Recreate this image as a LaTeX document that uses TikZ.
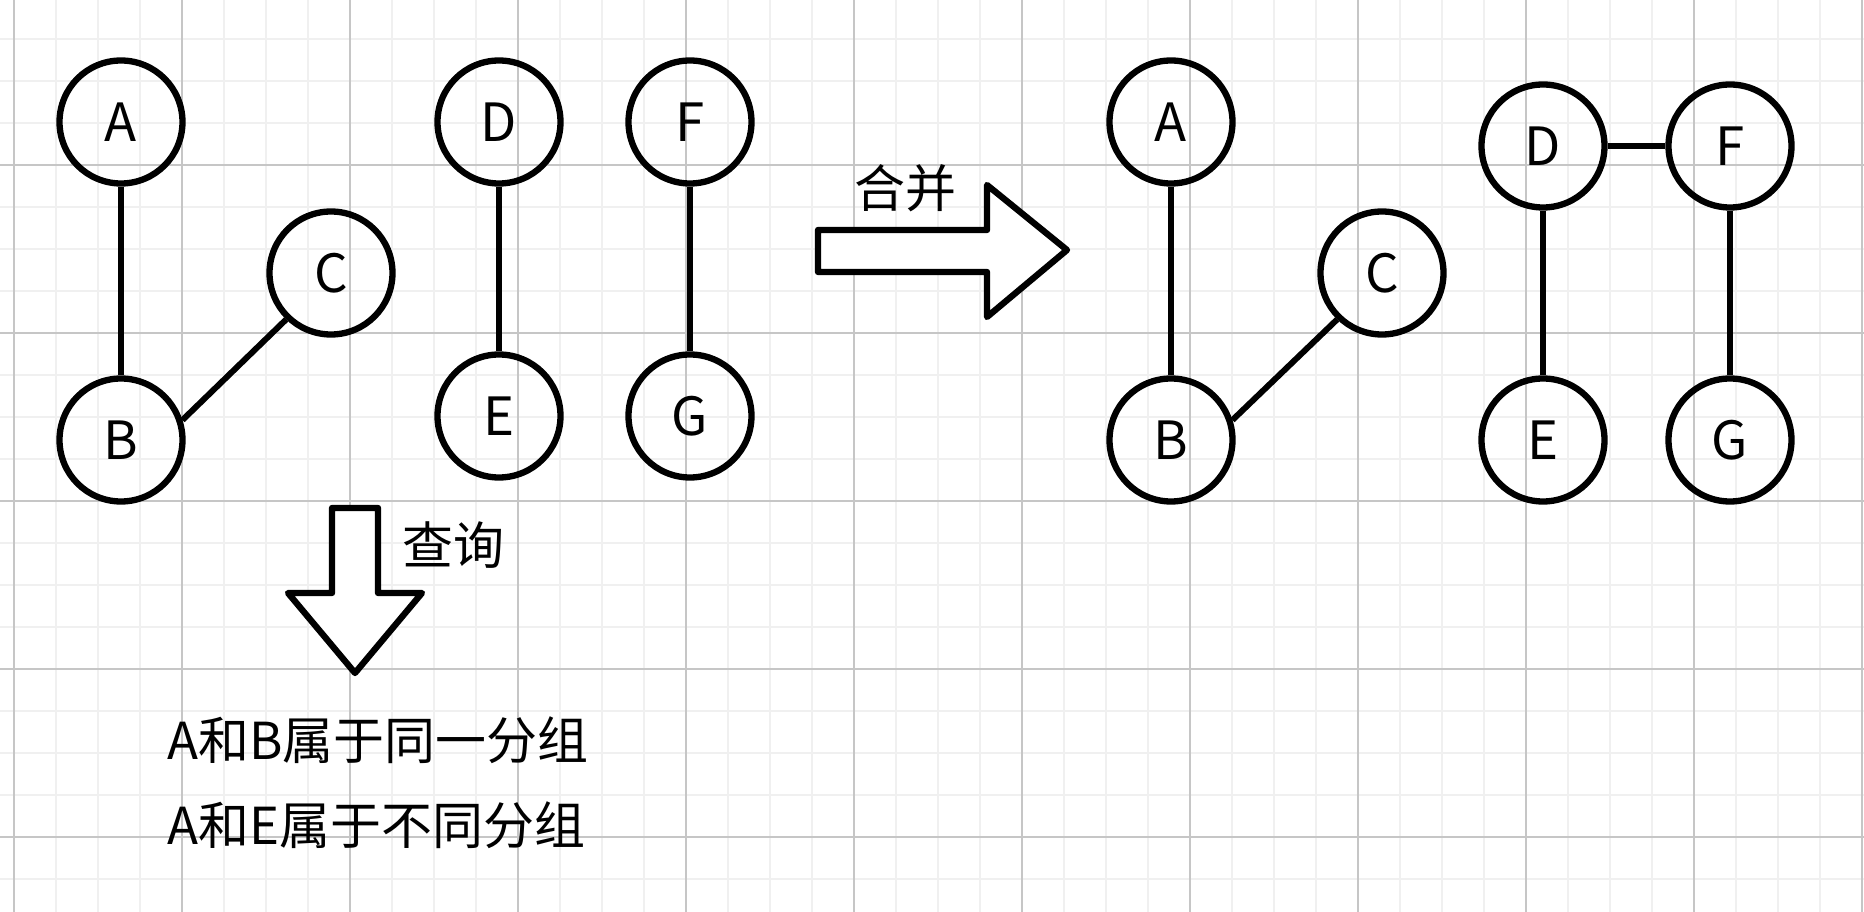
\documentclass[tikz,border=0pt]{standalone}
\usepackage{fontspec}
\setmainfont{Noto Sans CJK SC}
\usepackage{tikz}
\usetikzlibrary{positioning}

\begin{document}
\begin{tikzpicture}[
        vertex/.style={draw, circle, line width=1.8pt, minimum size=1.23cm, inner sep=0pt, font=\fontsize{15}{18}\selectfont},
        edge/.style={line width=1.7pt},
        bigarrow/.style={draw, line width=1.8pt, line join=round, fill=white},
        label/.style={font=\fontsize{14.5}{18}\selectfont},
        minorline/.style={gray!12, line width=0.5pt},
        majorline/.style={gray!45, line width=0.6pt}
    ]
        \useasboundingbox (0,0) rectangle (18.64,9.12);
        \fill[white] (0,0) rectangle (18.64,9.12);

        % grid paper
        \foreach \i in {0,...,44} {
            \draw[minorline] ({0.14+0.42*\i},0) -- ++(0,9.12);
        }
        \foreach \j in {-3,...,17} {
            \draw[minorline] (0,{7.47-0.42*\j}) -- ++(18.64,0);
        }
        \foreach \i in {0,...,11} {
            \draw[majorline] ({0.14+1.68*\i},0) -- ++(0,9.12);
        }
        \foreach \j in {0,...,4} {
            \draw[majorline] (0,{7.47-1.68*\j}) -- ++(18.64,0);
        }

        % before
        \node[vertex] (A1) at (1.21, 7.90) {A};
        \node[vertex] (C1) at (3.31, 6.39) {C};
        \node[vertex] (B1) at (1.21, 4.72) {B};
        \node[vertex] (D1) at (4.99, 7.90) {D};
        \node[vertex] (E1) at (4.99, 4.96) {E};
        \node[vertex] (F1) at (6.90, 7.90) {F};
        \node[vertex] (G1) at (6.90, 4.96) {G};

        \draw[edge] (A1) -- (B1);
        \draw[edge] (B1.18) -- (C1.226);
        \draw[edge] (D1) -- (E1);
        \draw[edge] (F1) -- (G1);

        % merge arrow
        \draw[bigarrow] (8.18,6.82) -- (9.87,6.82) -- (9.87,7.27) -- (10.67,6.62)
            -- (9.87,5.95) -- (9.87,6.40) -- (8.18,6.40) -- cycle;
        \node[label] (merge) at (9.05, 7.24) {合并};

        % after
        \node[vertex] (A2) at (11.71, 7.90) {A};
        \node[vertex] (C2) at (13.82, 6.39) {C};
        \node[vertex] (B2) at (11.71, 4.72) {B};
        \node[vertex] (D2) at (15.43, 7.66) {D};
        \node[vertex] (F2) at (17.30, 7.66) {F};
        \node[vertex] (E2) at (15.43, 4.72) {E};
        \node[vertex] (G2) at (17.30, 4.72) {G};

        \draw[edge] (A2) -- (B2);
        \draw[edge] (B2.18) -- (C2.226);
        \draw[edge] (D2) -- (F2);
        \draw[edge] (D2) -- (E2);
        \draw[edge] (F2) -- (G2);

        % query arrow
        \draw[bigarrow] (3.32,4.04) -- (3.78,4.04) -- (3.78,3.19) -- (4.22,3.19)
            -- (3.55,2.39) -- (2.88,3.19) -- (3.32,3.19) -- cycle;
        \node[label] (query) at (4.53, 3.67) {查询};

        \node[label, anchor=west] (same) at (1.55, 1.72) {A和B属于同一分组};
        \node[label, anchor=west] (diff) at (1.55, 0.87) {A和E属于不同分组};
    \end{tikzpicture}
\end{document}
